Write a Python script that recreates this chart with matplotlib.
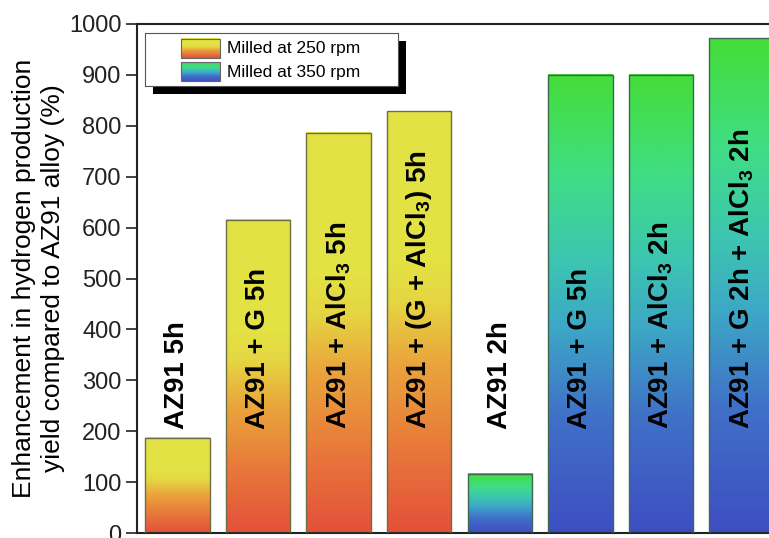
import matplotlib
matplotlib.use('Agg')
from matplotlib import pyplot as plt
from matplotlib.colors import LinearSegmentedColormap
from matplotlib.patches import Rectangle
import numpy as np

# data
labels = ['AZ91 5h', 'AZ91 + G 5h', r'AZ91 + AlCl$_\mathbf{3}$ 5h',
          r'AZ91 + (G + AlCl$_\mathbf{3}$) 5h', 'AZ91 2h', 'AZ91 + G 5h',
          r'AZ91 + AlCl$_\mathbf{3}$ 2h', r'AZ91 + G 2h + AlCl$_\mathbf{3}$ 2h']
values = [187, 615, 786, 829, 116, 900, 900, 972]
groups = [250, 250, 250, 250, 350, 350, 350, 350]
legend_labels = ['Milled at 250 rpm', 'Milled at 350 rpm']

plt.rcParams['font.family'] = 'Liberation Sans'
plt.rcParams['mathtext.fontset'] = 'custom'
plt.rcParams['mathtext.rm'] = 'Liberation Sans'
plt.rcParams['mathtext.bf'] = 'Liberation Sans:bold'

# gradients, bottom -> top
cm250 = LinearSegmentedColormap.from_list('c250', [
    (0.0, '#E4503A'), (0.2, '#E8783A'), (0.4, '#EAA43C'),
    (0.55, '#E5D642'), (0.65, '#E3E244'), (1.0, '#E3E244')])
cm350 = LinearSegmentedColormap.from_list('c350', [
    (0.0, '#3E4EC2'), (0.25, '#4070C8'), (0.45, '#3DA8C6'),
    (0.6, '#3CC6B0'), (0.78, '#40DD85'), (0.9, '#42DD5A'), (1.0, '#45DD38')])
cmaps = {250: cm250, 350: cm350}
edges = {250: '#6e6e45', 350: '#3f6650'}
grad = np.linspace(0, 1, 256).reshape(-1, 1)

W, H = 769, 538
fig = plt.figure(figsize=(W / 100, H / 100), dpi=100)
# axes runs past the right edge of the picture (cropped original)
ax = fig.add_axes([137 / W, 5 / H, 653 / W, 509 / H])

x = np.arange(1, len(values) + 1)
bars = ax.bar(x, values, width=0.8, color='none',
              edgecolor=[edges[g] for g in groups], linewidth=1, zorder=3)
for p, g in zip(bars, groups):
    x0, w, h = p.get_x(), p.get_width(), p.get_height()
    ax.imshow(grad, cmap=cmaps[g], origin='lower', aspect='auto',
              extent=[x0, x0 + w, 0, h], zorder=2, interpolation='bilinear')

for xi, lab in zip(x, labels):
    ax.text(xi, 205, lab, rotation=90, ha='center', va='bottom',
            fontsize=20, fontweight='bold', zorder=4)

ax.set_xlim(0.5, 8.6)
ax.set_ylim(0, 1000)
ax.set_yticks(range(0, 1001, 100))
ax.set_xticks([])
ax.spines['right'].set_visible(False)
for s in ['left', 'top', 'bottom']:
    ax.spines[s].set_linewidth(1.5)
    ax.spines[s].set_color('#222222')
ax.tick_params(axis='y', direction='out', length=8, width=1.2,
               labelsize=17, pad=3, colors='#222222')
ax.set_ylabel('Enhancement in hydrogen production\nyield compared to AZ91 alloy (%)',
              fontsize=19, labelpad=3, linespacing=1.25)

# legend box with drop shadow, drawn by hand (gradient swatches)
lx, ly, lw, lh = 145, 33, 253, 53
fig.patches.append(Rectangle(((lx + 8) / W, 1 - (ly + lh + 8) / H), lw / W, lh / H,
                             transform=fig.transFigure, facecolor='black',
                             edgecolor='none', zorder=1))
lax = fig.add_axes([lx / W, 1 - (ly + lh) / H, lw / W, lh / H])
lax.set_zorder(2)
for s in lax.spines.values():
    s.set_linewidth(0.8)
    s.set_color('#555555')
for i, (g, lab) in enumerate(zip([250, 350], legend_labels)):
    y0 = 6 + i * 23
    # top of swatch = top of colormap
    lax.imshow(grad, cmap=cmaps[g], origin='lower', aspect='auto',
               extent=[36, 75, y0 + 19, y0], interpolation='bilinear')
    lax.add_patch(Rectangle((36, y0), 39, 19, facecolor='none',
                            edgecolor='#666666', linewidth=0.8))
    lax.text(82, y0 + 10, lab, fontsize=12.5, va='center', ha='left')
lax.set_xlim(0, lw)
lax.set_ylim(lh, 0)
lax.set_xticks([])
lax.set_yticks([])

fig.savefig('out.png', dpi=100)
